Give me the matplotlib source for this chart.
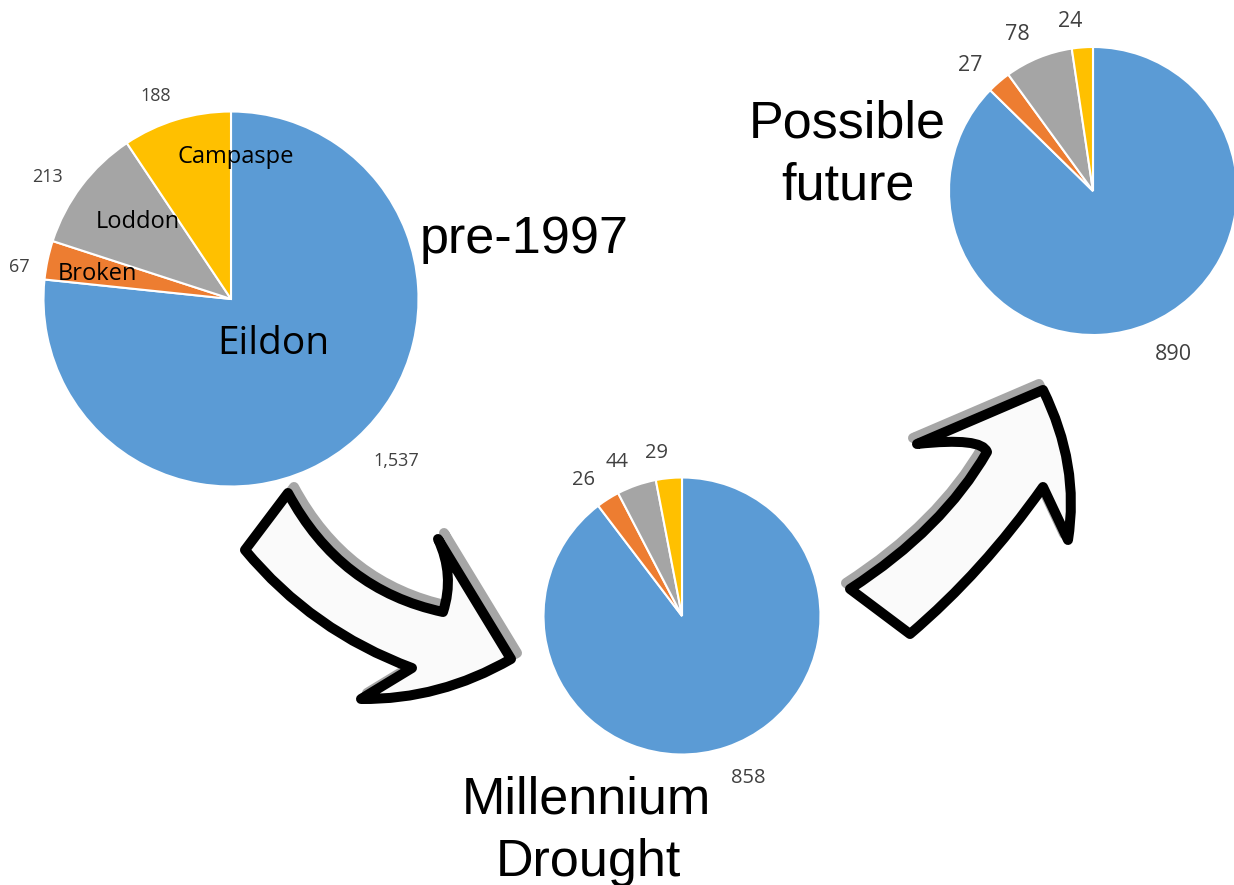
import numpy as np
import matplotlib
matplotlib.use("Agg")
import matplotlib.pyplot as plt
from matplotlib.path import Path
from matplotlib.patches import PathPatch

# ---------------- data ----------------
categories = ["Eildon", "Broken", "Loddon", "Campaspe"]
pre1997 = [1537, 67, 213, 188]
drought = [858, 26, 44, 29]
future = [890, 27, 78, 24]
period_titles = ["pre-1997", "Millennium\nDrought", "Possible\nfuture"]

colors = ["#5B9BD5", "#ED7D31", "#A5A5A5", "#FFC000"]

# ---------------- layout ----------------
W, H = 1234, 885
fig = plt.figure(figsize=(W / 100, H / 100), dpi=100)
ax = fig.add_axes([0, 0, 1, 1])

# pie geometry (pixel coordinates, y downward)
pies = [
    dict(values=pre1997, center=(231, 299), radius=187.5, fs=13),
    dict(values=drought, center=(682, 616), radius=138.5, fs=14.5),
    dict(values=future, center=(1093, 191), radius=144, fs=15.5),
]

wedge_sets = []
for p in pies:
    wedges, _ = ax.pie(p["values"], colors=colors, startangle=-90, counterclock=True,
                       center=p["center"], radius=p["radius"], frame=False,
                       wedgeprops=dict(edgecolor="white", linewidth=1.5))
    wedge_sets.append(wedges)

ax.set_xlim(0, W)
ax.set_ylim(H, 0)
ax.set_aspect("equal")
ax.axis("off")

renderer = fig.canvas.get_renderer()
GAP_SMALL, GAP_MAJOR = 15, 21
ANGLE_SHIFT = -3.5  # data degrees (y axis points down)
for p, wedges in zip(pies, wedge_sets):
    cx, cy = p["center"]
    r = p["radius"]
    vmax = max(p["values"])
    for w, v in zip(wedges, p["values"]):
        mid = np.deg2rad(0.5 * (w.theta1 + w.theta2) + ANGLE_SHIFT)
        ux, uy = np.cos(mid), np.sin(mid)
        t = ax.text(cx, cy, f"{v:,}", ha="center", va="center", fontsize=p["fs"],
                    color="#404040", family="Open Sans", zorder=5)
        bb = t.get_window_extent(renderer)
        gap = GAP_MAJOR if v == vmax else GAP_SMALL
        d = r + gap + 0.5 * (abs(ux) * bb.width + abs(uy) * bb.height)
        t.set_position((cx + d * ux, cy + d * uy))

# category names inside the first pie (offsets from its centre)
cx0, cy0 = pies[0]["center"]
name_offsets = {"Campaspe": (5, -136), "Loddon": (-93, -71), "Broken": (-133.5, -19), "Eildon": (42, 55)}
for name in categories:
    dx, dy = name_offsets[name]
    ax.text(cx0 + dx, cy0 + dy, name, ha="center", va="baseline",
            fontsize=28 if name == "Eildon" else 17, color="black", family="Open Sans", zorder=6)

# titles
title_font = dict(family="Liberation Sans", fontsize=37.5, color="black", ha="center", va="baseline", zorder=6)
ax.text(524, 253, period_titles[0], **title_font)
l1, l2 = period_titles[1].split("\n")
ax.text(586, 814, l1, **title_font)
ax.text(588, 876, l2, **title_font)
l1, l2 = period_titles[2].split("\n")
ax.text(847, 138, l1, **title_font)
ax.text(848, 200, l2, **title_font)

# ---------------- arrows (decoration) ----------------
M, L3, LN, CL = Path.MOVETO, Path.CURVE3, Path.LINETO, Path.CLOSEPOLY

arrow1_v = [(288, 493),
            (340, 590), (443, 612),
            (455, 575), (438, 539),
            (511, 659),
            (440, 700), (361, 699),
            (412, 668),
            (312, 631), (245, 550),
            (288, 493)]
arrow1_c = [M, L3, L3, L3, L3, LN, L3, L3, LN, L3, L3, CL]

arrow2_v = [(850, 589),
            (943, 529), (987, 452),
            (982, 437), (917, 444),
            (1043, 390),
            (1080, 465), (1068, 540),
            (1043, 487),
            (983, 572), (910, 634),
            (850, 589)]
arrow2_c = [M, L3, L3, L3, L3, LN, L3, L3, LN, L3, L3, CL]

for verts, codes, off in [(arrow1_v, arrow1_c, (6, -6)), (arrow2_v, arrow2_c, (-4, -6))]:
    v = np.array(verts, dtype=float)
    shadow = PathPatch(Path(v + np.array(off), codes), facecolor="#A6A6A6",
                       edgecolor="#A6A6A6", lw=7.2, joinstyle="round", zorder=7)
    ax.add_patch(shadow)
    main = PathPatch(Path(v, codes), facecolor="#FAFAFA", edgecolor="black",
                     lw=7.2, joinstyle="round", zorder=8)
    ax.add_patch(main)

fig.savefig("out.png", dpi=100, facecolor="white")
